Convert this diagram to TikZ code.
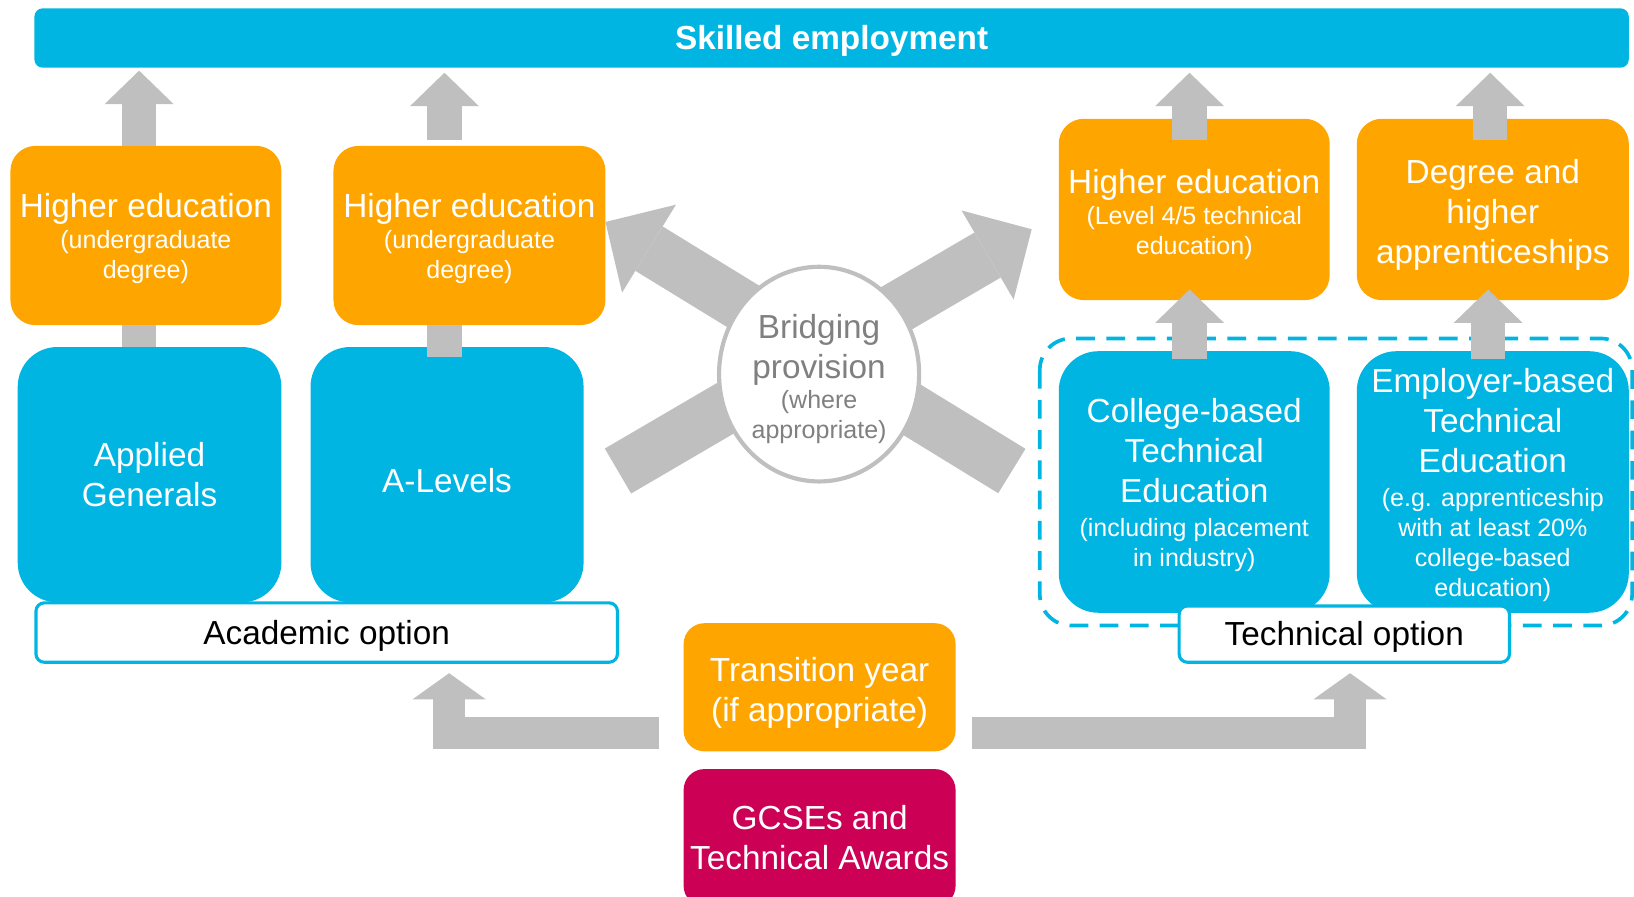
\documentclass[tikz,border=0pt]{standalone}
\usepackage{fontspec}
\setmainfont{Liberation Sans}
\usetikzlibrary{arrows.meta, shapes.geometric}
\definecolor{skyblue}{RGB}{0,181,226}
\definecolor{amber}{RGB}{255,165,0}
\definecolor{berry}{RGB}{204,0,85}
\definecolor{arrowgray}{RGB}{191,191,191}
\definecolor{textgray}{RGB}{128,128,128}
\newcommand{\sm}{\fontsize{24}{28.8}\selectfont}
\newcommand{\ps}[1][0pt]{\rule[-.212em]{0pt}{\dimexpr1.117em+#1\relax}}

\begin{document}
\begin{tikzpicture}[x = 1pt, y = -1pt,
    tile/.style = {rectangle, rounded corners = 24pt, inner sep = 0pt, text = white, align = center, font = {\fontsize{32}{38.4}\selectfont}},
    hebox/.style = {tile, fill = amber},
    studybox/.style = {tile, fill = skyblue, rounded corners = 38pt},
    optbox/.style = {tile, fill = white, draw = skyblue, line width = 3pt, rounded corners = 8pt, text = black},
    uparrow/.style = {arrowgray, line width = 33pt, -{Triangle[length = 32pt, width = 66pt, line width = 0pt]}},
    stem/.style = {arrowgray, line width = 33pt},
    elbow/.style = {arrowgray, line width = 31pt, -{Triangle[length = 25pt, width = 70pt, line width = 0pt]}},
    cross/.style = {arrowgray, line width = 50pt, -{Triangle[length = 49pt, width = 99pt, line width = 0pt]}}]
    \useasboundingbox (0, 0) rectangle (1568, 860);
    \coordinate (lowleft) at (593, 452);
    \coordinate (upright) at (990, 220);
    \coordinate (lowright) at (971, 452);
    \coordinate (upleft) at (581, 213);
    \draw [cross] (lowleft) -- (upright);
    \draw [cross] (lowright) -- (upleft);
    \node [ellipse, draw = arrowgray, line width = 4pt, fill = white, minimum width = 192pt, minimum height = 206pt, inner sep = 0pt, text = textgray, align = center, font = {\fontsize{32}{38.4}\selectfont}] (bridge) at (786, 359) {\ps[4pt]Bridging\\provision\\[-9pt]\sm (where\\[-9.6pt]\sm appropriate)\ps};
    \node [tile, fill = skyblue, rounded corners = 8pt, minimum width = 1530pt, minimum height = 57pt, font = {\bfseries\fontsize{32}{38.4}\selectfont}] (top) at (798, 36.5) {\ps Skilled employment};
    \node [hebox, minimum width = 260pt, minimum height = 172pt] (he1) at (140, 226) {\ps Higher education\\[-9pt]\sm (undergraduate\\[-9.6pt]\sm degree)\ps};
    \node [hebox, minimum width = 261pt, minimum height = 172pt] (he2) at (450.5, 226) {\ps Higher education\\[-9pt]\sm (undergraduate\\[-9.6pt]\sm degree)\ps};
    \node [hebox, minimum width = 260pt, minimum height = 174pt] (he3) at (1146, 201) {\ps[4pt]Higher education\\[-9pt]\sm (Level 4/5 technical\\[-9.6pt]\sm education)\ps};
    \node [hebox, minimum width = 261pt, minimum height = 174pt] (deg) at (1432.5, 201) {\ps[4pt]Degree and\\higher\\apprenticeships\ps};
    \node [studybox, minimum width = 253pt, minimum height = 245pt] (applied) at (143.5, 455.5) {\ps Applied\\Generals\ps};
    \node [studybox, minimum width = 262pt, minimum height = 245pt] (alevels) at (429, 455.5) {\ps[12pt]A-Levels};
    \node [studybox, minimum width = 260pt, minimum height = 251pt] (college) at (1146, 462.5) {\ps College-based\\Technical\\Education\\[-6.4pt]\sm (including placement\\[-9.6pt]\sm in industry)\ps};
    \node [studybox, minimum width = 261pt, minimum height = 251pt] (employer) at (1432.5, 462.5) {\ps Employer-based\\Technical\\Education\\[-6.4pt]\sm (e.g. apprenticeship\\[-9.6pt]\sm with at least 20\%\\[-9.6pt]\sm college-based\\[-9.6pt]\sm education)\ps};
    \draw [skyblue, line width = 3.5pt, dash pattern = on 18pt off 11pt, rounded corners = 30pt] ([xshift = -18pt, yshift = 12pt]college.north west) rectangle ([xshift = 3pt, yshift = -12pt]employer.south east);
    \node [optbox, minimum width = 558pt, minimum height = 57pt] (acad) at (313.5, 607) {\ps Academic option};
    \node [optbox, minimum width = 317pt, minimum height = 54pt] (techopt) at (1290, 608.5) {\ps Technical option};
    \node [tile, fill = amber, rounded corners = 20pt, minimum width = 261pt, minimum height = 123pt] (trans) at (786.5, 659.5) {\ps[6pt]Transition year\\(if appropriate)\ps};
    \node [tile, fill = berry, rounded corners = 20pt, minimum width = 261pt, minimum height = 132pt] (gcse) at (786.5, 804) {\ps GCSEs and\\Technical Awards\ps};
    \draw [uparrow] ([xshift = -6.5pt]he1.north) -- ++(0, -72);
    \draw [uparrow] ([xshift = -24pt, yshift = 5pt]he2.north) -- ++(0, -65);
    \draw [uparrow] ([xshift = -4.5pt, yshift = -21pt]he3.north) -- ++(0, -65);
    \draw [uparrow] ([xshift = -2.5pt, yshift = -21pt]deg.north) -- ++(0, -65);
    \draw [uparrow] ([xshift = -4.5pt, yshift = -8pt]college.north) -- ++(0, -67);
    \draw [uparrow] ([xshift = -4.5pt, yshift = -8pt]employer.north) -- ++(0, -67);
    \draw [stem] ([xshift = -6.5pt]he1.south) -- ([xshift = -10pt]applied.north);
    \draw [stem] ([xshift = -24pt]he2.south) -- ([xshift = -2.5pt, yshift = -10pt]alevels.north);
    \draw [elbow] ([xshift = -23pt, yshift = -44pt]trans.west) -| ([xshift = 117.5pt, yshift = -9pt]acad.south);
    \draw [elbow] ([xshift = 16pt, yshift = -44pt]trans.east) -| ([xshift = 5.5pt, yshift = -9pt]techopt.south);
\end{tikzpicture}
\end{document}
